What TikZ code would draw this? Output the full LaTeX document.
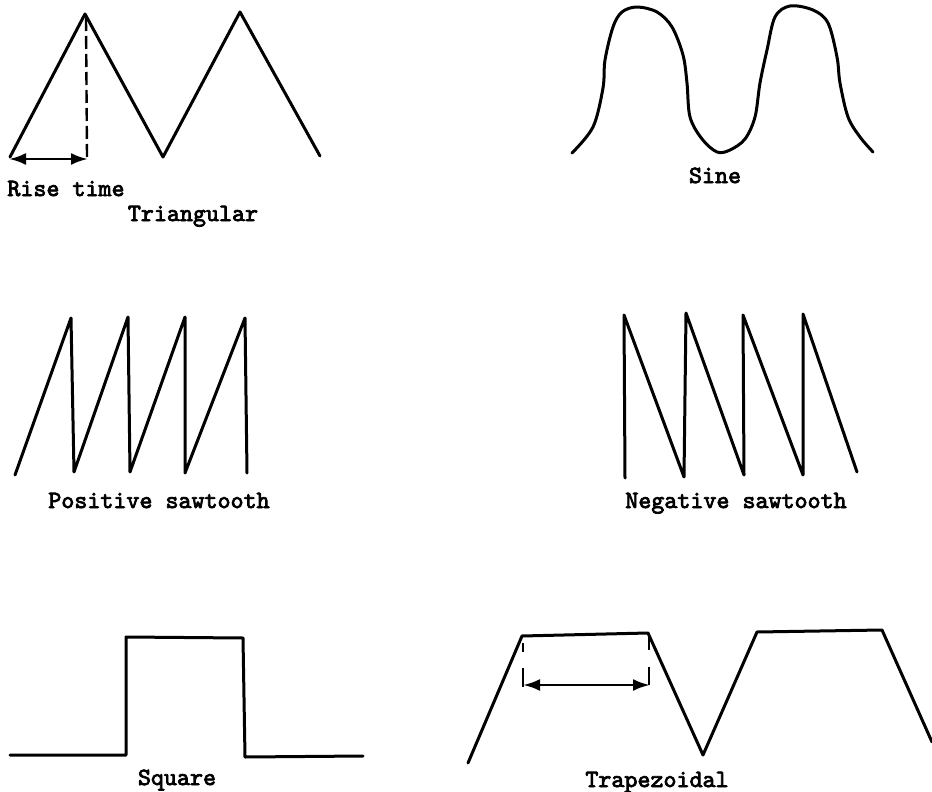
\documentclass[tikz,border=0pt]{standalone}
\usepackage{fontspec}
\newfontfamily\twfont{lmmono10-regular.otf}[FakeBold=3]
\usetikzlibrary{arrows.meta}
\tikzset{
  wave/.style={line width=3pt, line join=round, line cap=round},
  lbl/.style={font=\twfont\fontsize{24.8}{28}\selectfont, inner sep=0pt, anchor=base},
  dim/.style={line width=2.8pt, {Latex[length=17pt,width=12pt]}-{Latex[length=17pt,width=12pt]}},
  ext/.style={line width=2.4pt}
}
\begin{document}
\begin{tikzpicture}[x=1pt,y=-1pt]
\useasboundingbox (0,0) rectangle (932,792);
\fill[white] (0,0) rectangle (932,792);

% Triangular
\draw[wave] (10,157) -- (85,14) -- (163,157) -- (240,12) -- (320,156);
\draw[line width=2.4pt, dash pattern=on 13pt off 5pt] (86,18) -- (87,157);
\coordinate (ra) at (9,159);
\coordinate (rb) at (88,159);
\draw[dim] (ra) -- (rb);
\node[lbl] (risetime) at (66,196) {Rise time};
\node[lbl] (triangular) at (193,221) {Triangular};

% Sine
\draw[wave] plot[smooth, tension=0.55] coordinates {
 (572,153) (593,127) (603,88) (605,60) (613,27) (622,12) (637,7) (657,12)
 (672,27) (683,55) (687,83) (690,117) (702,139) (717,152) (730,150) (745,139)
 (755,117) (760,83) (767,50) (775,17) (790,6) (813,10) (828,23) (837,57)
 (840,83) (848,117) (860,137) (873,152)};
\node[lbl] (sine) at (715,183) {Sine};

% Positive sawtooth
\draw[wave] (15,475) -- (71,318) -- (74,472) -- (128,317) -- (130,472) -- (185,317) -- (185,473) -- (245,318) -- (247,473);
\node[lbl] (possaw) at (159,508) {Positive sawtooth};

% Negative sawtooth
\draw[wave] (625,478) -- (624,315) -- (684,477) -- (686,313) -- (744,475) -- (743,315) -- (803,475) -- (803,314) -- (857,472);
\node[lbl] (negsaw) at (736,508) {Negative sawtooth};

% Square
\draw[wave] (10,755) -- (126,755) -- (126,637) -- (243,638) -- (245,757) -- (363,756);
\node[lbl] (square) at (177,785) {Square};

% Trapezoidal
\draw[wave] (468,763) -- (522,636) -- (648,633) -- (703,755) -- (757,632) -- (882,630) -- (932,742);
\draw[ext] (523,643) -- (523,652);
\draw[ext] (523,668) -- (523,687);
\draw[ext] (649,637) -- (649,650);
\draw[ext] (649,667) -- (649,685);
\coordinate (ta) at (523,685);
\coordinate (tb) at (650,685);
\draw[dim] (ta) -- (tb);
\node[lbl] (trap) at (657,787) {Trapezoidal};
\end{tikzpicture}
\end{document}
